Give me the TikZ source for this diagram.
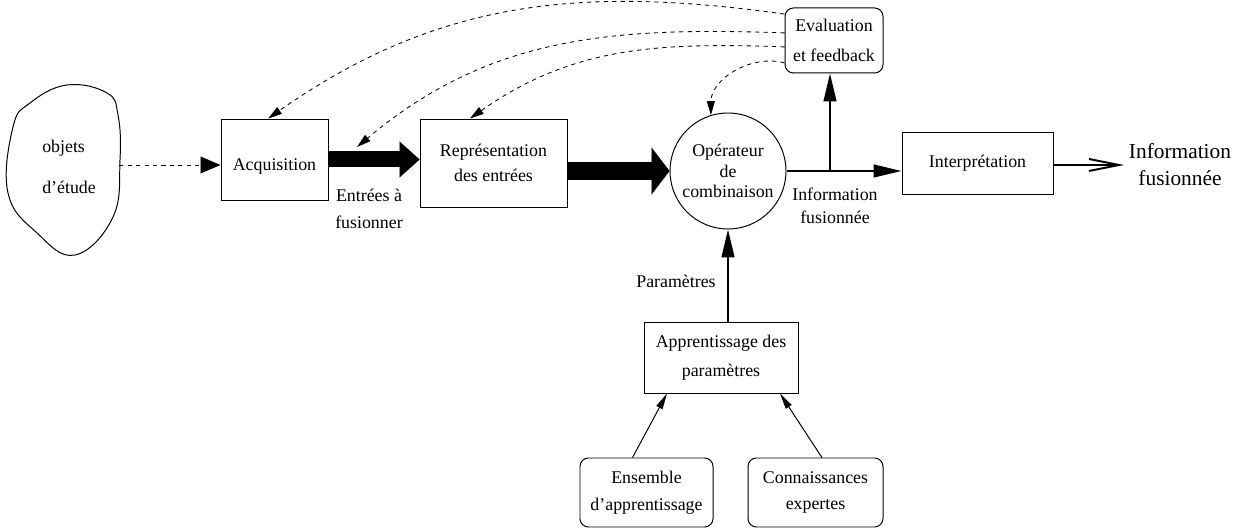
\documentclass[tikz,border=0pt]{standalone}
\usepackage{fontspec}
\setmainfont{Liberation Serif}
\usetikzlibrary{arrows.meta}

\begin{document}
\begin{tikzpicture}[
    txt/.style={font=\fontsize{12.7}{14.5}\selectfont, align=center},
    bloc/.style={txt, draw, line width=0.7pt, inner sep=0pt},
    rbloc/.style={bloc, rounded corners=6pt},
    fb/.style={dashed, line width=0.6pt, -{Triangle[length=0.35cm,width=0.2cm]}},
    fleche/.style={line width=1.4pt, -{Triangle[length=0.7cm,width=0.32cm]}},
    fine/.style={line width=0.7pt, -{Triangle[length=0.4cm,width=0.17cm]}}
  ]
    \useasboundingbox (0, 0) rectangle (31.025, 13.225);

    % objets d'etude
    \draw[line width=0.7pt] plot[smooth cycle, tension=0.7] coordinates {(1.675, 11.1) (2.675, 10.9) (2.95, 10.35) (3.0, 9.225) (2.825, 7.8) (1.875, 6.85) (0.925, 7.4) (0.2, 8.4) (0.325, 10.05) (0.75, 10.65)};
    \node[txt, align=left, anchor=west, inner sep=0pt] (obj) at (1.05, 9.05) {objets\\[14.5pt]d'étude};
    \coordinate (blobE) at (2.98, 9.1);

    % chaine principale
    \node[bloc, minimum width=2.675cm, minimum height=2.025cm] (acq) at (6.8625, 9.2375) {\raisebox{-0.18cm}[\height][\depth]{Acquisition}};
    \node[bloc, minimum width=3.675cm, minimum height=2.2cm] (rep) at (12.3375, 9.15) {Représentation\\[3.2pt]des entrées};
    \node[txt, draw, circle, line width=0.7pt, inner sep=0pt, minimum size=2.9cm] (comb) at (18.2, 8.95) {Opérateur\\de\\combinaison};
    \node[rbloc, minimum width=2.45cm, minimum height=1.625cm] (eval) at (20.85, 12.2125) {Evaluation\\[6.8pt]et feedback};
    \node[bloc, minimum width=3.775cm, minimum height=1.55cm] (interp) at (24.4375, 9.15) {Interprétation};
    \node[txt, font=\fontsize{15.2}{19.1}\selectfont] (out) at (29.5, 9.1) {Information\\fusionnée};

    % apprentissage
    \node[bloc, minimum width=3.85cm, minimum height=1.775cm] (appr) at (18.025, 4.2875) {Apprentissage des\\[6pt]paramètres};
    \node[rbloc, minimum width=3.325cm, minimum height=1.725cm] (ens) at (16.1625, 0.9125) {Ensemble\\[4.6pt]d'apprentissage};
    \node[rbloc, minimum width=3.375cm, minimum height=1.725cm] (conn) at (20.3875, 0.9125) {Connaissances\\[4.6pt]expertes};

    % etiquettes
    \node[txt] (entrees) at (9.225, 8.0) {Entrées à\\[4.6pt]fusionner};
    \node[txt] (infofus) at (20.875, 8.075) {Information\\[1.8pt]fusionnée};
    \node[txt] (param) at (16.9, 6.2) {Paramètres};

    % fleches
    \draw[dashed, line width=0.6pt, -{Triangle[length=0.5cm,width=0.42cm]}] (blobE) -- (blobE -| acq.west);
    \draw[line width=0.4cm, -{Triangle[length=0.5cm,width=0.9cm,line width=0.1pt]}] (acq.east) -- (acq.east -| rep.west);
    \draw[line width=0.45cm, -{Triangle[length=0.45cm,width=1.175cm,line width=0.1pt]}] (rep.east |- comb.west) -- (comb.west);
    \coordinate (br) at (20.75, 8.95);
    \draw[fleche] (comb.east) -- (interp.west |- comb.east);
    \draw[fleche] (br) -- (br |- eval.south);
    \draw[line width=1.4pt, -{Straight Barb[length=0.75cm,width=0.3cm]}] (interp.east |- out) -- (out.west);
    \draw[fleche] (appr.north -| comb.south) -- (comb.south);
    \draw[fine] ([xshift=-0.35cm]ens.north) -- ([xshift=-1.35cm]appr.south);
    \draw[fine] ([xshift=0.16cm]conn.north) -- ([xshift=1.475cm]appr.south);

    % retours
    \coordinate (fb2) at (8.925, 9.55);
    \draw[fb] ([yshift=0.66cm]eval.west) to[out=172, in=35] ([xshift=-0.16cm]acq.north);
    \draw[fb] ([yshift=0.19cm]eval.west) to[out=178, in=40] (fb2);
    \draw[fb] ([yshift=-0.16cm]eval.west) to[out=178, in=35] ([xshift=-0.59cm]rep.north);
    \draw[fb] ([yshift=-0.56cm]eval.west) to[out=165, in=90] (comb.107);
\end{tikzpicture}
\end{document}
